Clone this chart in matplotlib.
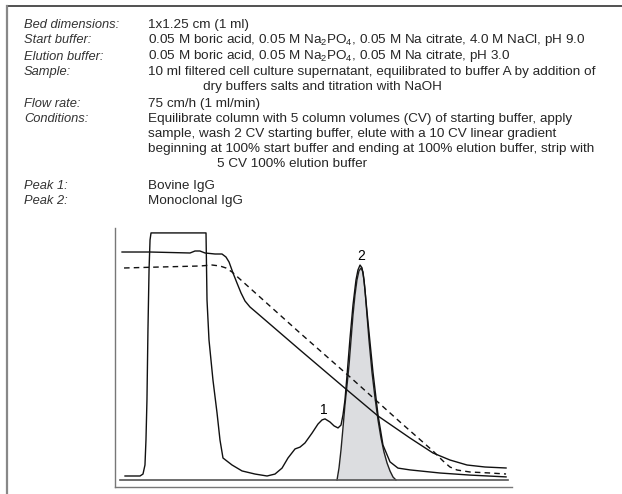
import numpy as np
import matplotlib
matplotlib.use("Agg")
from matplotlib import pyplot as plt
from matplotlib.lines import Line2D

plt.rcParams['font.family'] = ['Liberation Sans', 'DejaVu Sans']
plt.rcParams['mathtext.fontset'] = 'custom'
plt.rcParams['mathtext.rm'] = 'Liberation Sans'
plt.rcParams['mathtext.it'] = 'Liberation Sans:italic'

# Run conditions (label column / value column)
labels = ["Bed dimensions:", "Start buffer:", "Elution buffer:", "Sample:", "",
          "Flow rate:", "Conditions:", "", "", "", "Peak 1:", "Peak 2:"]
values = ["1x1.25 cm (1 ml)",
          "0.05 M boric acid, 0.05 M Na$_2$PO$_4$, 0.05 M Na citrate, 4.0 M NaCl, pH 9.0",
          "0.05 M boric acid, 0.05 M Na$_2$PO$_4$, 0.05 M Na citrate, pH 3.0",
          "10 ml filtered cell culture supernatant, equilibrated to buffer A by addition of",
          "dry buffers salts and titration with NaOH",
          "75 cm/h (1 ml/min)",
          "Equilibrate column with 5 column volumes (CV) of starting buffer, apply",
          "sample, wash 2 CV starting buffer, elute with a 10 CV linear gradient",
          "beginning at 100% start buffer and ending at 100% elution buffer, strip with",
          "5 CV 100% elution buffer",
          "Bovine IgG",
          "Monoclonal IgG"]
row_y = [25, 40, 56.5, 72.5, 87, 104, 119, 134, 149, 164, 186, 201]     # px from top
value_x = [148, 148, 148, 148, 203, 148, 148, 148, 148, 217, 148, 148]

# UV absorbance trace (ml, % full scale)
uv_ml = [1.01, 2.52, 2.82, 3.02, 3.12, 3.22, 3.32, 3.43, 3.53, 3.63, 9.17, 9.27, 9.47,
         9.87, 10.28, 10.58, 10.88, 11.79, 12.80, 14.11, 15.32, 16.12, 16.83, 17.43,
         18.14, 18.64, 19.14, 19.85, 20.45, 20.86, 21.16, 21.66, 22.07, 22.47, 22.77,
         22.97, 23.17, 23.38, 23.68, 23.98, 24.28, 24.48, 24.69, 24.89, 25.09, 25.49,
         25.99, 26.50, 27.00, 27.71, 28.51, 29.72, 32.75, 35.77, 39.40]
uv_abs = [4.25, 4.25, 5.0, 8.5, 18.1, 33.6, 60.6, 83.8, 95.4, 98.1, 98.1, 72.2, 56.8,
          41.3, 28.6, 18.1, 11.2, 8.5, 6.2, 5.0, 4.25, 5.0, 7.3, 11.2,
          14.7, 15.4, 17.0, 20.8, 24.3, 25.9, 26.3, 25.1, 23.6, 22.8, 23.9,
          27.8, 33.6, 43.2, 57.5, 70.3, 79.9, 83.8, 85.7, 84.6, 79.9, 63.7,
          44.4, 27.8, 16.2, 9.7, 7.3, 6.6, 5.4, 4.6, 3.9]

# Peak 2 fraction (shaded)
peak2_ml = [22.37, 22.57, 22.77, 22.97, 23.17, 23.38, 23.58, 23.78, 23.98, 24.18, 24.38,
            24.58, 24.79, 24.99, 25.19, 25.39, 25.59, 25.89, 26.20, 26.50, 26.80, 27.10,
            27.41, 27.71, 28.01, 28.31]
peak2_abs = [2.70, 7.34, 14.29, 22.78, 31.66, 39.38, 47.10, 56.76, 66.41, 74.13, 79.92,
             83.40, 84.56, 83.01, 76.06, 66.41, 56.76, 44.40, 34.36, 25.87, 18.92, 13.51,
             9.27, 6.18, 3.86, 2.70]
baseline = 2.7

# Conductivity
cond_ml = [0.71, 3.53, 7.56, 8.06, 8.56, 9.07, 10.08, 10.78, 11.18, 11.49, 11.89, 12.29,
           12.70, 13.10, 13.60, 14.31, 18.64, 23.38, 26.50, 29.72, 32.04, 33.75, 35.47,
           37.28, 39.40]
cond = [90.73, 90.73, 90.35, 91.12, 91.12, 90.35, 89.96, 89.96, 88.80, 86.87, 82.63, 78.76,
        74.90, 71.81, 69.50, 67.18, 52.90, 37.45, 27.41, 18.92, 13.13, 10.42, 8.49,
        7.72, 7.34]

# pH
ph_ml = [0.91, 4.53, 8.56, 9.77, 10.58, 11.18, 11.79, 18.64, 23.68, 28.72, 32.04, 33.05,
         33.75, 34.46, 35.77, 37.78, 39.40]
ph = [84.56, 84.94, 85.33, 85.71, 85.33, 84.56, 83.01, 59.46, 42.47, 25.10, 13.90, 10.04,
      7.72, 6.56, 5.79, 5.41, 5.02]

W, H = 622, 494
fig = plt.figure(figsize=(W / 100, H / 100), dpi=100)

# frame lines round the panel
fig.add_artist(Line2D([7 / W, 1.0], [1 - 6 / H, 1 - 6 / H], color='#333333', lw=1.2))
fig.add_artist(Line2D([7 / W, 7 / W], [0.0, 1 - 6 / H], color='#888888', lw=1.6))

for lab, val, y, vx in zip(labels, values, row_y, value_x):
    if lab:
        fig.text(24 / W, 1 - y / H, lab, fontsize=9.3, style='italic', color='#333333', va='center')
    fig.text(vx / W, 1 - y / H, val, fontsize=9.7, color='#262626', va='center')

ax = fig.add_axes([115 / W, 7 / H, (512 - 115) / W, (487 - 228) / H])
ax.set_xlim(0, 40)
ax.set_ylim(0, 100)
for s in ['top', 'right']:
    ax.spines[s].set_visible(False)
for s in ['left', 'bottom']:
    ax.spines[s].set_color('#777777')
    ax.spines[s].set_linewidth(1.0)
ax.set_xticks([])
ax.set_yticks([])

ax.fill_between(peak2_ml, baseline, peak2_abs, color='#dcdde0', lw=0)
ax.plot(peak2_ml, peak2_abs, color='#222222', lw=1.0)
ax.plot([0.5, 39.6], [baseline, baseline], color='#555555', lw=1.2)
ax.plot(uv_ml, uv_abs, color='#111111', lw=1.0, solid_joinstyle='round')
ax.plot(cond_ml, cond, color='#111111', lw=1.0, solid_joinstyle='round')
ax.plot(ph_ml, ph, color='#111111', lw=1.0, dashes=(4, 3))

ax.text(21.06, 29.7, "1", fontsize=10, ha='center', va='center')
ax.text(24.79, 89.2, "2", fontsize=10, ha='center', va='center')

fig.savefig("out.png", dpi=100)
